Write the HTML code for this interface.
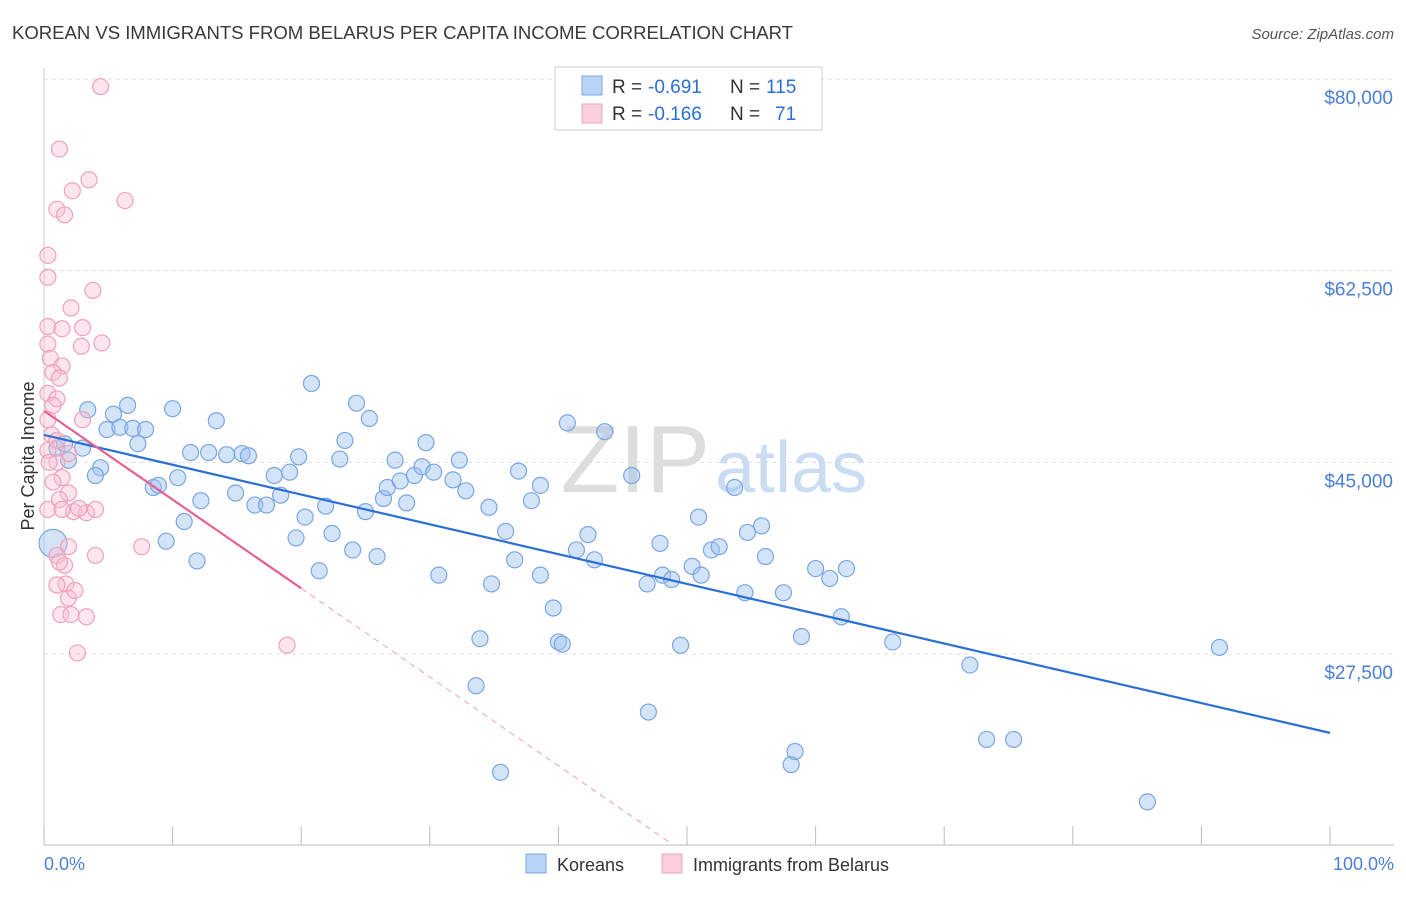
<!DOCTYPE html>
<html><head><meta charset="utf-8"><style>
body{margin:0;background:#fff;font-family:"Liberation Sans",sans-serif;}
svg text{font-family:"Liberation Sans",sans-serif;}
</style></head><body>
<svg id="chart" width="1406" height="892">
<text x="12" y="39" font-size="18.6" fill="#3a3a3a" textLength="781">KOREAN VS IMMIGRANTS FROM BELARUS PER CAPITA INCOME CORRELATION CHART</text>
<text x="1394" y="39" font-size="15" fill="#555" text-anchor="end" font-style="italic">Source: ZipAtlas.com</text>
<g id="grid"></g>
<text x="710" y="492" font-size="96" fill="#ddd" text-anchor="end" font-family="Liberation Serif">ZIP</text>
<text x="715" y="492" font-size="72" fill="#c9dcf2">atlas</text>
<g id="marks"></g>
<text transform="translate(34,456) rotate(-90)" font-size="18" fill="#333" text-anchor="middle">Per Capita Income</text>
<text x="44" y="870" font-size="18" fill="#4a7fd6">0.0%</text>
<text x="1394" y="870" font-size="18" fill="#4a7fd6" text-anchor="end">100.0%</text>
<g>
<rect x="555" y="67" width="267" height="63" fill="#fff" stroke="#ccc"/>
<rect x="582" y="76" width="20" height="19" fill="#b8d3f5" stroke="#7aa5e3"/>
<rect x="582" y="104" width="20" height="19" fill="#fbd0de" stroke="#f0a0bc"/>
<text x="612" y="93" font-size="19" fill="#333">R =</text>
<text x="648" y="93" font-size="19" fill="#2a6fd6">-0.691</text>
<text x="730" y="93" font-size="19" fill="#333">N =</text>
<text x="766" y="93" font-size="19" fill="#2a6fd6">115</text>
<text x="612" y="120" font-size="19" fill="#333">R =</text>
<text x="648" y="120" font-size="19" fill="#2a6fd6">-0.166</text>
<text x="730" y="120" font-size="19" fill="#333">N =</text>
<text x="775" y="120" font-size="19" fill="#2a6fd6">71</text>
</g>
<g>
<rect x="526" y="854" width="20" height="19" fill="#b8d3f5" stroke="#7aa5e3"/>
<text x="557" y="871" font-size="18" fill="#333">Koreans</text>
<rect x="662" y="854" width="20" height="19" fill="#fbd0de" stroke="#f0a0bc"/>
<text x="693" y="871" font-size="18" fill="#333">Immigrants from Belarus</text>
</g>
</svg>
<script>
const yTicks=[27500,45000,62500,80000];
const yTickLabels=["$27,500","$45,000","$62,500","$80,000"];
const koreaX=[1.0,1.6,3.0,1.9,4.4,4.0,3.4,5.4,6.5,4.9,5.9,6.9,7.9,7.3,10.0,8.5,8.9,10.4,10.9,9.5,11.4,11.9,12.8,13.4,12.2,14.2,14.9,15.4,15.9,16.4,17.3,17.9,18.4,19.1,19.8,19.6,20.3,20.8,21.4,21.9,22.4,23.0,23.4,24.0,24.3,25.0,25.3,25.9,26.4,26.7,27.3,27.7,28.2,28.8,29.4,29.7,30.3,30.7,31.8,32.3,32.8,33.6,33.9,34.6,34.8,35.5,35.9,36.6,36.9,37.9,38.6,38.6,39.6,40.0,40.3,40.7,41.4,42.3,42.8,43.6,45.7,46.9,47.0,47.9,48.1,48.8,49.5,50.4,50.9,51.1,51.9,52.5,53.7,54.5,54.7,55.8,56.1,57.5,58.1,58.4,58.9,60.0,61.1,62.0,62.4,66.0,72.0,73.3,75.4,85.8,91.4,0.7];
const koreaY=[46.3,46.7,46.3,45.2,44.5,43.8,49.8,49.4,50.2,48.0,48.2,48.1,48.0,46.7,49.9,42.7,42.9,43.6,39.6,37.8,45.9,36.0,45.9,48.8,41.5,45.7,42.2,45.8,45.6,41.1,41.1,43.8,42.0,44.1,45.5,38.1,40.0,52.2,35.1,41.0,38.5,45.3,47.0,37.0,50.4,40.5,49.0,36.4,41.7,42.7,45.2,43.3,41.3,43.8,44.6,46.8,44.1,34.7,43.4,45.2,42.4,24.6,28.9,40.9,33.9,16.7,38.7,36.1,44.2,41.5,42.9,34.7,31.7,28.6,28.4,48.6,37.0,38.4,36.1,47.8,43.8,33.9,22.2,37.6,34.7,34.3,28.3,35.5,40.0,34.7,37.0,37.3,42.7,33.1,38.6,39.2,36.4,33.1,17.4,18.6,29.1,35.3,34.4,30.9,35.3,28.6,26.5,19.7,19.7,14.0,28.1,37.6];
const belX=[4.4,1.2,3.5,2.2,1.0,1.6,6.3,0.3,0.3,3.8,2.1,0.3,1.4,3.0,0.3,2.9,4.5,0.5,1.4,0.7,1.2,0.3,1.0,0.7,0.3,3.0,0.6,0.3,1.9,1.0,1.4,0.7,1.9,1.2,0.3,2.3,1.4,3.3,4.0,2.7,1.9,4.0,1.0,1.6,1.2,7.6,1.7,1.9,2.4,1.0,1.3,3.3,2.1,2.6,18.9,0.4,1.0];
const belY=[79.3,73.6,70.8,69.8,68.1,67.6,68.9,63.9,61.9,60.7,59.1,57.4,57.2,57.3,55.8,55.6,55.9,54.5,53.8,53.2,52.7,51.3,50.8,50.2,48.9,48.9,47.5,46.1,45.8,45.0,43.6,43.2,42.2,41.6,40.7,40.5,40.7,40.4,40.7,40.8,37.3,36.5,36.5,35.6,35.9,37.3,33.9,32.6,33.3,33.8,31.1,30.9,31.1,27.6,28.3,45.0,47.0];
const koreaTrend=[47.5,20.3];
const belTrend=[49.7,33.5];
const belTrendEndPct=20;
const NS="http://www.w3.org/2000/svg";
const xs=p=>44+p*12.86;
const ys=v=>79+(80000-v)*191.67/17500;
const yk=k=>ys(k*1000);
function mk(t,a,parent){const e=document.createElementNS(NS,t);for(const k in a)e.setAttribute(k,a[k]);parent.appendChild(e);return e;}
const grid=document.getElementById('grid'),marks=document.getElementById('marks');
yTicks.forEach((v,i)=>{
 const l=mk('line',{x1:44,x2:1394,y1:ys(v),y2:ys(v),stroke:'#ddd','stroke-dasharray':'4,4'},grid);
 
 
 const t=mk('text',{x:1393,y:ys(v)+25,'font-size':19,fill:'#4a7fd6','text-anchor':'end'},grid);
 t.textContent=yTickLabels[i];
 
 
});
const ax=mk('line',{x1:44,x2:1394,y1:845,y2:845,stroke:'#bbb'},grid);


const yax=mk('line',{x1:44,x2:44,y1:68,y2:845,stroke:'#ccc'},grid);


for(let i=0;i<=10;i++){const t=mk('line',{x1:xs(i*10),x2:xs(i*10),y1:826,y2:845,stroke:'#bbb'},grid);
 
 }
koreaX.forEach((x,i)=>{const big=i===koreaX.length-1;
 const c=mk('circle',{cx:xs(x),cy:yk(koreaY[i]),r:big?14:8,fill:'rgba(160,195,240,0.45)',stroke:'#7aa5e3','stroke-width':1.2},marks);
 
 });
belX.forEach((x,i)=>{
 const c=mk('circle',{cx:xs(x),cy:yk(belY[i]),r:8,fill:'rgba(248,190,210,0.4)',stroke:'#f0a0bc','stroke-width':1.2},marks);
 
 });
const kl=mk('line',{x1:xs(0),y1:yk(koreaTrend[0]),x2:xs(100),y2:yk(koreaTrend[1]),stroke:'#2a6fd6','stroke-width':2.2},marks);


const slope=(belTrend[1]-belTrend[0])/belTrendEndPct;
const bl=mk('line',{x1:xs(0),y1:yk(belTrend[0]),x2:xs(belTrendEndPct),y2:yk(belTrend[1]),stroke:'#e8608f','stroke-width':2.2},marks);


const endP=(yk(belTrend[0])-845)/((yk(belTrend[0])-yk(belTrend[0]+slope*100))/100);
const bd=mk('line',{x1:xs(belTrendEndPct),y1:yk(belTrend[1]),x2:xs(endP),y2:845,stroke:'#eaa0b8','stroke-width':1,'stroke-dasharray':'6,5'},marks);


</script>
</body></html>
